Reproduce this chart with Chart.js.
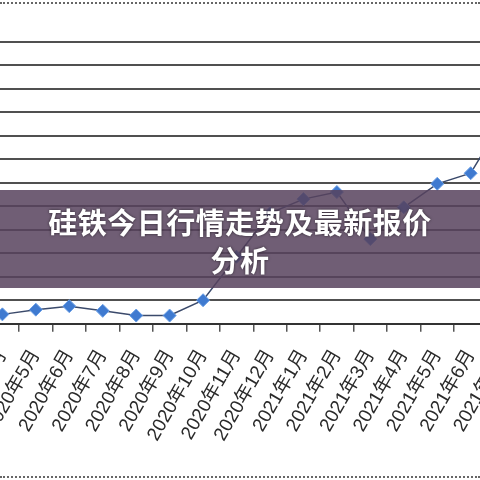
<!DOCTYPE html>
<html>
<head>
<meta charset="utf-8">
<script src="https://cdn.jsdelivr.net/npm/chart.js@4/dist/chart.umd.min.js"></script>
<style>
  html, body { margin: 0; padding: 0; background: #fff; }
  #wrap { position: relative; width: 480px; height: 480px; overflow: hidden; background: #fff; }
  #holder { position: absolute; left: 0; top: 0; width: 1000px; height: 1000px; }
  .dots { position: absolute; left: 0; width: 480px; border-top: 2px dotted #666; }
  #banner {
    position: absolute; left: 0; top: 190px; width: 480px; height: 98px;
    box-sizing: border-box; padding-top: 12px;
    background: rgba(87, 66, 93, 0.85); color: #fff;
    font: bold 29px "Noto Sans CJK SC", sans-serif; line-height: 38px;
    letter-spacing: 0.5px; text-align: center;
    text-shadow: 0 0 3px rgba(0, 0, 0, 0.6);
  }
</style>
</head>
<body>
<div id="wrap">
  <div id="holder"><canvas id="price-chart" width="560" height="480"></canvas></div>
  <div class="dots" style="top:2px"></div>
  <div class="dots" style="top:476px"></div>
  <div id="banner">硅铁今日行情走势及最新报价<br>分析</div>
</div>
<script>
const months = ["2020年4月","2020年5月","2020年6月","2020年7月","2020年8月","2020年9月",
                "2020年10月","2020年11月","2020年12月","2021年1月","2021年2月","2021年3月",
                "2021年4月","2021年5月","2021年6月","2021年7月"]
const prices = [5080,5120,5150,5110,5070,5070,5200,5570,5940,6060,6120,5720,5990,6190,6280,6750]
const y_min = 5000
const y_max = 7400
const y_step = 200

// the picture is a tight crop of a bigger chart, so place the canvas to match it
const CAT_W = 33.43
const FIRST_X = 2
const AREA_TOP = 41
const AREA_H = 282

const chart = new Chart("price-chart", {
  type: "line",
  data: {
    labels: months,
    datasets: [{
      data: prices,
      borderColor: "#3b4a6b",
      borderWidth: 1.5,
      tension: 0,
      pointStyle: "rectRot",
      pointRadius: 6.5,
      pointBackgroundColor: "#3f7ad0",
      pointBorderColor: "#6a9fe6",
      pointBorderWidth: 1
    }]
  },
  options: {
    responsive: false,
    maintainAspectRatio: false,
    animation: false,
    layout: { padding: 0 },
    plugins: { legend: { display: false }, tooltip: { enabled: false } },
    scales: {
      x: {
        offset: true,
        grid: { offset: true, drawOnChartArea: false, drawTicks: true, tickLength: 8, color: "#555", lineWidth: 1.5 },
        border: { color: "#333", width: 2 },
        ticks: { autoSkip: false, minRotation: 60, maxRotation: 60, padding: 14, color: "#2a2a2a",
                 font: { family: "'Liberation Sans', 'Noto Sans CJK SC', sans-serif", size: 19 } }
      },
      y: {
        min: y_min, max: y_max,
        grid: { color: "#505050", lineWidth: 2, drawTicks: false },
        border: { display: false },
        ticks: { display: false, stepSize: y_step }
      }
    }
  }
});

// fit canvas so categories are CAT_W apart and the plot sits where the crop has it
const holder = document.getElementById("holder");
for (let i = 0; i < 3; i++) {
  const a = chart.chartArea;
  const extraW = chart.width - (a.right - a.left);
  const extraH = chart.height - (a.bottom - a.top);
  chart.resize(Math.round(CAT_W * months.length + extraW), Math.round(AREA_H + extraH));
}
holder.style.left = (FIRST_X - chart.scales.x.getPixelForValue(0)) + "px";
holder.style.top = (AREA_TOP - chart.chartArea.top) + "px";
</script>
</body>
</html>
